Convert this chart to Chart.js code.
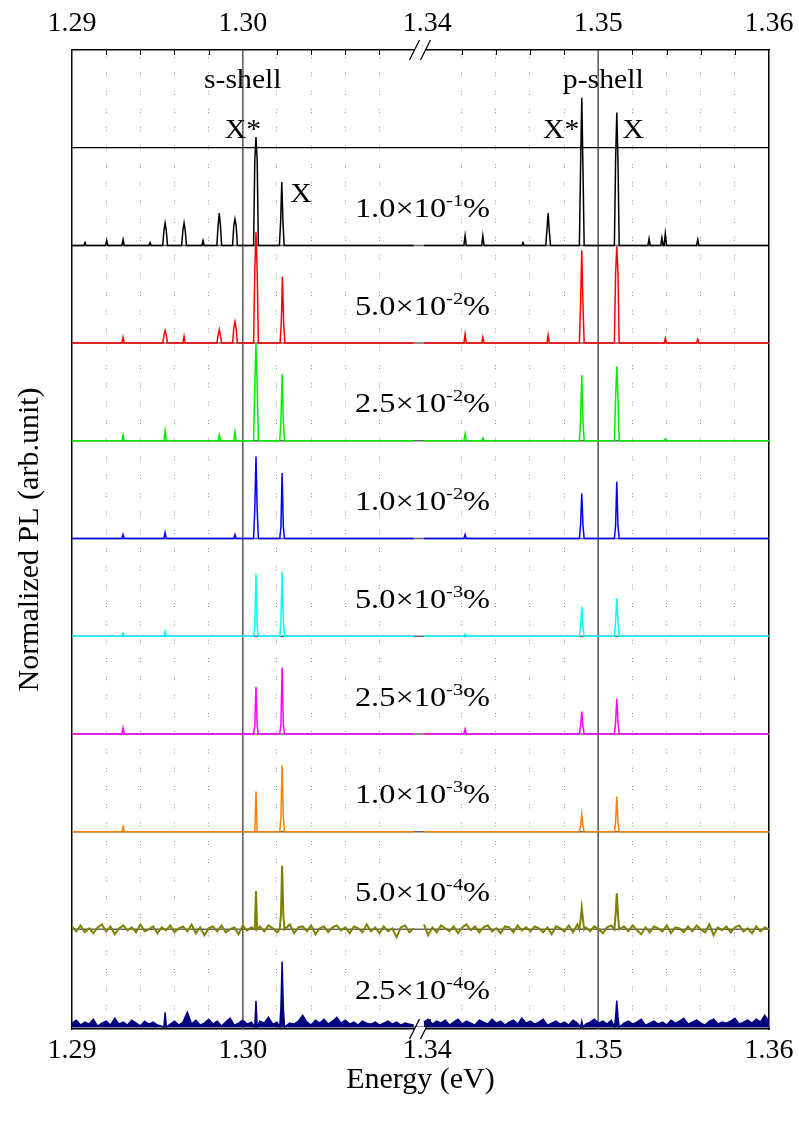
<!DOCTYPE html>
<html>
<head>
<meta charset="utf-8">
<script src="https://cdn.jsdelivr.net/npm/chart.js@4.4.0/dist/chart.umd.min.js"></script>
<style>
  html, body { margin: 0; padding: 0; background: #fff; }
  #wrap { width: 799px; height: 1124px; }
</style>
</head>
<body>
<div id="wrap"><canvas id="plChart" width="799" height="1124"></canvas></div>
<script>
// broken energy axis: left panel 1.29-1.3104, right panel 1.3396-1.36
const LEFT_PANEL = [1.29, 1.3104];
const RIGHT_PANEL = [1.3396, 1.36];
const LEFT_DATA = [1.29, 1.3100];   // where the measured spectra stop / restart
const RIGHT_DATA = [1.3398, 1.36];

const tickEnergies = [1.29, 1.30, 1.34, 1.35, 1.36];
const tickLabels = ['1.29', '1.30', '1.34', '1.35', '1.36'];
const gridEnergies = [1.292, 1.294, 1.296, 1.298, 1.302, 1.304, 1.306, 1.308,
                      1.342, 1.344, 1.346, 1.348, 1.352, 1.354, 1.356, 1.358];
const markerEnergies = [1.30, 1.35];

// one trace per doping level, stacked with these offsets
const mantissa = ['1.0', '5.0', '2.5', '1.0', '5.0', '2.5', '1.0', '5.0', '2.5'];
const exponent = ['-1', '-2', '-2', '-2', '-3', '-3', '-3', '-4', '-4'];
const offsets = [8, 7, 6, 5, 4, 3, 2, 1, 0];
const colors = ['#000000', '#ff0000', '#00ee00', '#0000ff', '#00ffff',
                '#ff00ff', '#ff8000', '#808000', '#000080'];

// peaks: [energy eV, height, shoulder height]
const peaksBlack = [
  [1.29076, 0.03], [1.29203, 0.05], [1.29299, 0.06], [1.29457, 0.03],
  [1.29545, 0.23, 0.15], [1.29656, 0.23, 0.15], [1.29767, 0.05],
  [1.29862, 0.33, 0.2], [1.29954, 0.27, 0.2], [1.30077, 1.11, 0.87], [1.30228, 0.65, 0.23],
  [1.34221, 0.10], [1.34325, 0.10], [1.34560, 0.03], [1.34707, 0.33, 0.15],
  [1.34904, 1.51, 0.79], [1.35109, 1.36, 0.87], [1.35298, 0.07], [1.35373, 0.08],
  [1.35393, 0.12], [1.35583, 0.06]
];
const peaksRed = [
  [1.29299, 0.06], [1.29545, 0.13, 0.08], [1.29656, 0.07], [1.29862, 0.14, 0.08],
  [1.29954, 0.22, 0.15], [1.30077, 1.14, 0.74], [1.30232, 0.68, 0.2],
  [1.34221, 0.09], [1.34325, 0.06], [1.34707, 0.08], [1.34904, 0.95, 0.39],
  [1.35109, 0.99, 0.71], [1.35393, 0.05], [1.35583, 0.04]
];
const peaksGreen = [
  [1.29299, 0.06], [1.29545, 0.10], [1.29862, 0.06], [1.29954, 0.09],
  [1.30077, 0.99, 0.57], [1.3023, 0.68, 0.2], [1.34221, 0.07], [1.34325, 0.03],
  [1.34904, 0.67, 0.2], [1.35109, 0.76, 0.44], [1.35393, 0.02]
];
const peaksBlue = [
  [1.29299, 0.04], [1.29545, 0.06], [1.29954, 0.04], [1.30077, 0.84, 0.3],
  [1.3023, 0.67, 0.12], [1.34221, 0.04], [1.34904, 0.46, 0.14], [1.35109, 0.58, 0.13]
];
const peaksCyan = [
  [1.29299, 0.03], [1.29545, 0.05], [1.30077, 0.64, 0.1], [1.3023, 0.66, 0.15],
  [1.34221, 0.02], [1.34904, 0.30, 0.1], [1.35109, 0.39, 0.15]
];
const peaksMagenta = [
  [1.29299, 0.06], [1.30077, 0.48, 0.08], [1.3023, 0.68, 0.1],
  [1.34221, 0.05], [1.34904, 0.23, 0.08], [1.35109, 0.36, 0.12]
];
const peaksOrange = [
  [1.29299, 0.05], [1.30077, 0.41], [1.3023, 0.68, 0.15],
  [1.34904, 0.18, 0.06], [1.35109, 0.36, 0.1]
];
const peaksOlive = [
  [1.30077, 0.39], [1.3023, 0.65, 0.15], [1.34904, 0.22, 0.1], [1.35109, 0.37, 0.15]
];
const peaksNavy = [
  [1.29545, 0.15], [1.30077, 0.27], [1.3023, 0.67, 0.2], [1.34904, 0.06], [1.35109, 0.27, 0.1]
];

// background noise of the two weakest spectra
const noiseOliveL = [0.03,-0.02,0.04,-0.03,0.01,-0.04,0.02,0.05,-0.02,0.03,-0.05,0.01,0.04,-0.01,0.02,-0.03,0.05,-0.02,0.00,0.03,
  -0.04,0.02,-0.01,0.04,-0.03,0.01,0.03,-0.02,0.05,-0.04,0.02,-0.06,0.01,0.03,-0.02,0.04,-0.03,0.00,0.02,-0.05,
  0.04,-0.01,0.02,-0.07,0.03,-0.02,0.04,0.01,-0.03,0.02,-0.01,0.05,-0.04,0.02,0.03,-0.02,0.04,-0.05,0.01,0.03,
  -0.03,0.02,0.04,-0.01,0.02,-0.04,0.03,0.01,-0.03,0.05,-0.02,0.02,-0.04,0.03,-0.02,0.01,-0.08,0.02,0.04,-0.03,0.01];
const noiseOliveR = [0.05,-0.06,0.02,-0.03,0.04,0.01,-0.02,0.03,-0.04,0.02,0.05,-0.01,0.03,-0.03,0.02,0.04,-0.02,0.01,-0.04,0.03,
  0.02,-0.03,0.04,-0.01,0.02,-0.02,0.03,0.01,-0.03,0.02,-0.05,0.03,0.01,-0.02,0.04,-0.03,0.05,-0.01,0.02,-0.02,
  0.03,0.00,-0.04,0.02,0.04,-0.03,0.01,0.03,-0.02,0.04,-0.01,-0.05,0.02,-0.03,0.03,0.01,-0.02,0.04,-0.04,0.02,
  0.01,-0.03,0.03,-0.02,0.04,0.00,-0.03,0.05,-0.06,0.02,-0.01,0.03,-0.03,0.02,0.04,-0.02,0.01,-0.04,0.03,-0.02,0.02,0.00];
const noiseNavyL = [0.04,0.07,0.02,0.05,0.03,0.08,0.01,0.04,0.06,0.02,0.09,0.03,0.05,0.02,0.07,0.04,0.01,0.06,0.03,0.05,
  0.02,0.08,0.04,0.03,0.06,0.02,0.05,0.15,0.03,0.07,0.02,0.04,0.08,0.03,0.06,0.01,0.05,0.09,0.02,0.04,
  0.07,0.03,0.05,0.02,0.06,0.04,0.10,0.03,0.05,0.02,0.08,0.04,0.03,0.06,0.12,0.05,0.02,0.07,0.04,0.08,
  0.03,0.06,0.10,0.04,0.07,0.03,0.05,0.02,0.06,0.04,0.03,0.05,0.02,0.04,0.06,0.03,0.05,0.02,0.04,0.03,0.02];
const noiseNavyR = [0.05,0.08,0.03,0.06,0.04,0.07,0.02,0.05,0.08,0.03,0.06,0.04,0.02,0.07,0.05,0.03,0.08,0.04,0.06,0.02,
  0.05,0.07,0.03,0.09,0.04,0.06,0.03,0.05,0.08,0.02,0.04,0.06,0.03,0.05,0.02,0.07,0.04,0.10,0.03,0.05,
  0.08,0.04,0.06,0.03,0.07,0.05,0.09,0.04,0.06,0.03,0.05,0.08,0.02,0.04,0.06,0.03,0.05,0.02,0.07,0.04,
  0.06,0.09,0.03,0.05,0.07,0.04,0.02,0.06,0.08,0.03,0.05,0.04,0.06,0.09,0.03,0.05,0.07,0.04,0.08,0.05,0.12,0.06];

const allPeaks = [peaksBlack, peaksRed, peaksGreen, peaksBlue, peaksCyan,
                  peaksMagenta, peaksOrange, peaksOlive, peaksNavy];
const allNoise = [null, null, null, null, null, null, null,
                  [noiseOliveL, noiseOliveR], [noiseNavyL, noiseNavyR]];

// annotations
const shellLabels = ['s-shell', 'p-shell'];
const shellEnergies = [1.3000, 1.3503];
const shellY = 9.61;
const lineLabels = ['X*', 'X', 'X*', 'X'];
const lineLabelEnergies = [1.3000, 1.30341, 1.34783, 1.35205];
const lineLabelY = [9.10, 8.44, 9.10, 9.10];
const TOP_LINE = 9;

// energy -> position on the broken axis
const LEFT_SPAN = LEFT_PANEL[1] - LEFT_PANEL[0];
const X_MAX = LEFT_SPAN + RIGHT_PANEL[1] - RIGHT_PANEL[0];
function toAxis(e) {
  return e <= LEFT_PANEL[1] ? e - LEFT_PANEL[0] : e - RIGHT_PANEL[0] + LEFT_SPAN;
}

const HW = 0.00007;
function spikes(peaks) {
  const pts = [];
  peaks.forEach(([e, h, s]) => {
    if (s) pts.push([e - 2 * HW, 0], [e - HW, s], [e, h], [e + HW, s], [e + 2 * HW, 0]);
    else pts.push([e - HW, 0], [e, h], [e + HW, 0]);
  });
  return pts;
}

function buildTrace(peaks, noise, offset) {
  const sp = spikes(peaks);
  const data = [];
  [LEFT_DATA, RIGHT_DATA].forEach(([a, b], k) => {
    let pts = [];
    if (noise) {
      const n = noise[k];
      const step = (b - a) / (n.length - 1);
      n.forEach((v, i) => {
        const e = a + i * step;
        if (!peaks.some(p => Math.abs(p[0] - e) < 3 * HW)) pts.push([e, v]);
      });
    } else {
      pts.push([a, 0], [b, 0]);
    }
    sp.filter(p => p[0] >= a && p[0] <= b).forEach(p => pts.push(p));
    pts.sort((p, q) => p[0] - q[0]);
    pts.forEach(([e, v]) => data.push({x: toAxis(e), y: offset + v}));
    if (k === 0) data.push({x: LEFT_SPAN, y: null});
  });
  return data;
}

const Y_MIN = -0.02, Y_MAX = 10;
const datasets = [];
offsets.forEach((off, i) => {
  datasets.push({
    data: buildTrace(allPeaks[i], allNoise[i], off),
    borderColor: colors[i],
    backgroundColor: colors[i],
    borderWidth: i === 7 ? 2 : 1.5,
    fill: i === 8 ? 'origin' : false,
    order: 20 - i
  });
  // zero line of each trace
  datasets.push({
    data: [{x: 0, y: off}, {x: X_MAX, y: off}],
    borderColor: '#666666', borderWidth: 1.5, order: 40
  });
});
markerEnergies.forEach(e => {
  datasets.push({
    data: [{x: toAxis(e), y: Y_MIN}, {x: toAxis(e), y: Y_MAX}],
    borderColor: '#555555', borderWidth: 1.5, order: 30
  });
});
datasets.push({
  data: [{x: 0, y: TOP_LINE}, {x: X_MAX, y: TOP_LINE}],
  borderColor: '#000000', borderWidth: 1.2, order: 25
});

const tickPos = tickEnergies.map(toAxis);
const gridPos = gridEnergies.map(toAxis);
const allTicks = tickPos.concat(gridPos).sort((a, b) => a - b);
function isLabelTick(v) { return tickPos.some(t => Math.abs(t - v) < 1e-7); }
function labelFor(v) {
  const i = tickPos.findIndex(t => Math.abs(t - v) < 1e-7);
  return i >= 0 ? tickLabels[i] : '';
}

const SERIF = '"Liberation Serif", "Times New Roman", serif';
Chart.defaults.color = '#000';

const annotations = {
  id: 'annotations',
  afterDraw(chart) {
    const {ctx, chartArea: ca, scales: {x, y}} = chart;
    function txt(s, cx, cy, size, align, sx) {
      ctx.save();
      ctx.font = size + 'px ' + SERIF;
      ctx.fillStyle = '#000';
      ctx.textAlign = align || 'center';
      ctx.textBaseline = 'alphabetic';
      ctx.translate(cx, cy);
      ctx.scale(sx || 1.1, 1);
      ctx.fillText(s, 0, 0);
      ctx.restore();
    }
    function width(s, size, sx) {
      ctx.font = size + 'px ' + SERIF;
      return ctx.measureText(s).width * sx;
    }

    // inward tick marks on the top frame
    ctx.save();
    ctx.strokeStyle = '#000';
    ctx.lineWidth = 1;
    gridPos.forEach(v => {
      const px = Math.round(x.getPixelForValue(v)) + 0.5;
      ctx.beginPath();
      ctx.moveTo(px, ca.top);
      ctx.lineTo(px, ca.top + 5);
      ctx.stroke();
    });
    // axis break marks
    const bx = x.getPixelForValue(LEFT_SPAN);
    [ca.top, ca.bottom].forEach(by => {
      ctx.fillStyle = '#fff';
      ctx.fillRect(bx - 6, by - 2, 11, 4);
      ctx.strokeStyle = '#000';
      ctx.lineWidth = 1.2;
      [-6, 5].forEach(dx => {
        ctx.beginPath();
        ctx.moveTo(bx + dx - 5, by + 10);
        ctx.lineTo(bx + dx + 5, by - 10);
        ctx.stroke();
      });
    });
    ctx.restore();

    shellLabels.forEach((s, i) => {
      txt(s, x.getPixelForValue(toAxis(shellEnergies[i])), y.getPixelForValue(shellY), 27);
    });
    lineLabels.forEach((s, i) => {
      txt(s, x.getPixelForValue(toAxis(lineLabelEnergies[i])), y.getPixelForValue(lineLabelY[i]), 27);
    });

    // doping levels: mantissa x 10^exponent %
    const SC = 1.2;
    const cx = x.getPixelForValue(LEFT_SPAN) + 2;
    offsets.forEach((off, i) => {
      const base = y.getPixelForValue(off + 0.29);
      const p1 = mantissa[i] + '\u00d710';
      const w1 = width(p1, 27, SC), w2 = width(exponent[i], 17, SC), w3 = width('%', 27, SC);
      let sx = cx - (w1 + w2 + w3) / 2;
      txt(p1, sx, base, 27, 'left', SC); sx += w1;
      txt(exponent[i], sx, base - 11, 17, 'left', SC); sx += w2;
      txt('%', sx, base, 27, 'left', SC);
    });
  }
};

const xTicks = {
  autoSkip: false, maxRotation: 0, padding: 8,
  font: {family: SERIF, size: 28, lineHeight: 1},
  callback: v => labelFor(v)
};
// let the frame run to the canvas edges as in the original layout
const noSidePadding = s => { s.paddingLeft = 0; s.paddingRight = 0; };

new Chart(document.getElementById('plChart'), {
  type: 'line',
  data: {datasets},
  plugins: [annotations],
  options: {
    responsive: false,
    animation: false,
    layout: {padding: {left: 0, right: 30, top: -2, bottom: 29}},
    elements: {point: {radius: 0}, line: {tension: 0}},
    plugins: {legend: {display: false}, tooltip: {enabled: false}},
    scales: {
      x: {
        type: 'linear', position: 'bottom', min: 0, max: X_MAX,
        afterBuildTicks: ax => { ax.ticks = allTicks.map(v => ({value: v})); },
        afterFit: noSidePadding,
        ticks: xTicks,
        grid: {
          drawTicks: false, lineWidth: 1,
          color: c => (c.tick && !isLabelTick(c.tick.value)) ? '#8a8a8a' : 'rgba(0,0,0,0)'
        },
        border: {display: true, color: '#000', width: 1.5, dash: [1, 2, 1, 14.3], dashOffset: -4},
        title: {display: true, text: 'Energy (eV)', font: {family: SERIF, size: 30, lineHeight: 1},
                padding: {top: -8, bottom: 0}}
      },
      x2: {
        type: 'linear', position: 'top', min: 0, max: X_MAX,
        afterBuildTicks: ax => { ax.ticks = tickPos.map(v => ({value: v})); },
        afterFit: noSidePadding,
        ticks: Object.assign({}, xTicks, {padding: 12}),
        grid: {drawOnChartArea: false, drawTicks: false},
        border: {display: true, color: '#000', width: 1.5}
      },
      y: {
        type: 'linear', position: 'left', min: Y_MIN, max: Y_MAX,
        ticks: {display: false},
        grid: {drawOnChartArea: false, drawTicks: false},
        border: {display: true, color: '#000', width: 1.5},
        title: {display: true, text: 'Normalized PL (arb.unit)',
                font: {family: SERIF, size: 30, lineHeight: 1.2},
                padding: {top: 12, bottom: 24}}
      },
      y2: {
        type: 'linear', position: 'right', min: Y_MIN, max: Y_MAX,
        ticks: {display: false},
        grid: {drawOnChartArea: false, drawTicks: false},
        border: {display: true, color: '#000', width: 1.5}
      }
    }
  }
});
</script>
</body>
</html>
